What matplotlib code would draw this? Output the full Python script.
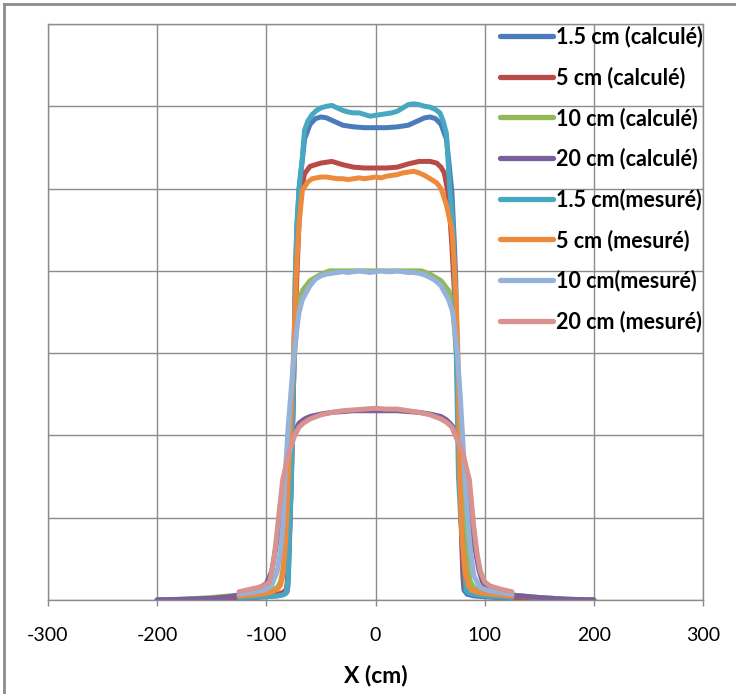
import matplotlib
matplotlib.use("Agg")
import matplotlib.pyplot as plt
from matplotlib.lines import Line2D

plt.rcParams['font.family'] = ['Lato', 'DejaVu Sans']

# profils calculés (x en cm)
x_15_calc = [-200, -175, -150, -125, -110, -100, -90, -84, -81, -80, -79, -77, -75, -73.5, -72, -70, -67, -65, -60, -55,
             -50, -45, -40, -35, -30, -20, -10, 0, 10, 20, 30, 35, 40, 45, 50, 55, 60, 65, 67, 70,
             72, 73.5, 75, 77, 79, 80, 81, 84, 90, 100, 110, 125, 150, 175, 200]
y_15_calc = [0, 0.005, 0.01, 0.02, 0.03, 0.04, 0.05, 0.07, 0.1, 0.2, 0.6, 1.5, 2.7, 3.9, 4.5, 5.0, 5.35, 5.6, 5.78, 5.85,
             5.87, 5.86, 5.83, 5.8, 5.77, 5.75, 5.74, 5.74, 5.74, 5.75, 5.77, 5.8, 5.83, 5.86, 5.87, 5.85, 5.78, 5.6, 5.35, 4.95,
             4.4, 3.9, 2.8, 1.6, 0.7, 0.3, 0.12, 0.07, 0.05, 0.04, 0.03, 0.02, 0.01, 0.005, 0]

x_5_calc = [-200, -175, -150, -125, -110, -100, -90, -85, -82, -81, -80, -78, -76, -74, -72, -70, -68, -65, -60, -50,
            -40, -30, -20, -10, 0, 10, 20, 30, 40, 50, 56, 60, 63, 66, 68, 70, 72, 74, 76, 78,
            80, 81, 82, 85, 90, 100, 110, 125, 150, 175, 200]
y_5_calc = [0, 0.005, 0.015, 0.03, 0.04, 0.05, 0.07, 0.09, 0.12, 0.2, 0.4, 1.1, 2.1, 3.2, 3.95, 4.6, 4.98, 5.18, 5.27, 5.31,
            5.33, 5.29, 5.26, 5.25, 5.25, 5.25, 5.26, 5.3, 5.33, 5.33, 5.31, 5.26, 5.19, 4.98, 4.7, 4.3, 3.8, 3.2, 2.2, 1.1,
            0.45, 0.25, 0.15, 0.1, 0.07, 0.05, 0.04, 0.03, 0.015, 0.005, 0]

x_10_calc = [-200, -175, -150, -125, -110, -100, -95, -90, -87, -85, -83, -81, -79, -77, -74, -72, -70, -67, -60, -50,
             -42, -30, -20, -10, 0, 10, 20, 30, 42, 50, 60, 67, 70, 72, 74, 77, 79, 81, 83, 85,
             87, 90, 95, 100, 110, 125, 150, 175, 200]
y_10_calc = [0, 0.01, 0.03, 0.06, 0.08, 0.1, 0.12, 0.15, 0.22, 0.35, 0.7, 1.3, 1.9, 2.4, 3.0, 3.35, 3.62, 3.76, 3.88, 3.96,
             4.0, 4.0, 4.0, 4.0, 4.0, 4.0, 4.0, 4.0, 4.0, 3.96, 3.88, 3.76, 3.62, 3.35, 3.0, 2.4, 1.9, 1.3, 0.7, 0.35,
             0.22, 0.15, 0.12, 0.1, 0.08, 0.06, 0.03, 0.01, 0]

x_20_calc = [-200, -175, -150, -134, -125, -110, -100, -95, -90, -87, -85, -83, -80, -77, -75, -72, -70, -65, -60, -50,
             -40, -30, -20, -10, 0, 10, 20, 30, 40, 50, 60, 65, 68, 70, 72, 75, 77, 80, 83, 85,
             87, 90, 95, 98, 100, 110, 125, 150, 175, 200]
y_20_calc = [0, 0.01, 0.02, 0.04, 0.06, 0.12, 0.2, 0.35, 0.75, 1.1, 1.3, 1.5, 1.75, 1.95, 2.03, 2.1, 2.15, 2.2, 2.23, 2.26,
             2.28, 2.29, 2.3, 2.3, 2.3, 2.3, 2.3, 2.29, 2.28, 2.26, 2.23, 2.19, 2.15, 2.12, 2.09, 2.03, 1.9, 1.7, 1.46, 1.25,
             1.0, 0.7, 0.35, 0.22, 0.18, 0.1, 0.06, 0.03, 0.01, 0]

# profils mesurés
x_15_mes = [-125, -110, -100, -90, -85, -82, -80, -79, -77, -75, -73.5, -72, -70, -67, -65, -62, -58, -54, -50, -45,
            -40, -35, -30, -25, -20, -15, -10, -5, 0, 5, 10, 15, 20, 25, 30, 35, 40, 45, 50, 55,
            59, 62, 65, 68, 71, 72.5, 74, 76, 78, 80, 82, 83, 85, 90, 100, 110, 125]
y_15_mes = [0.03, 0.035, 0.04, 0.05, 0.06, 0.08, 0.25, 0.73, 1.46, 2.7, 3.92, 4.58, 5.0, 5.38, 5.71, 5.82, 5.9, 5.95, 5.98, 6.0,
            6.01, 5.98, 5.95, 5.93, 5.92, 5.92, 5.9, 5.88, 5.89, 5.9, 5.91, 5.92, 5.94, 5.98, 6.02, 6.03, 6.02, 6.0, 5.99, 5.96,
            5.92, 5.82, 5.67, 5.0, 4.55, 3.9, 3.0, 1.5, 1.0, 0.7, 0.3, 0.12, 0.09, 0.07, 0.05, 0.04, 0.03]

x_5_mes = [-125, -110, -100, -95, -90, -87, -85, -83, -82, -80, -77, -75, -72.5, -70, -67, -62, -58, -54, -50, -45,
           -40, -35, -30, -25, -20, -15, -10, -5, 0, 5, 10, 15, 20, 25, 30, 35, 40, 45, 50, 56,
           60, 65, 70, 72.5, 74, 75.5, 77, 79, 82, 85, 88, 95, 105, 115, 125]
y_5_mes = [0.05, 0.06, 0.08, 0.1, 0.13, 0.18, 0.3, 0.6, 0.8, 1.46, 2.4, 3.0, 4.0, 4.58, 4.98, 5.08, 5.12, 5.13, 5.14, 5.14,
           5.13, 5.12, 5.12, 5.11, 5.12, 5.13, 5.12, 5.13, 5.14, 5.13, 5.15, 5.16, 5.17, 5.19, 5.2, 5.21, 5.19, 5.16, 5.12, 5.07,
           5.0, 4.8, 4.5, 4.0, 3.6, 3.0, 1.6, 0.8, 0.35, 0.18, 0.12, 0.09, 0.07, 0.06, 0.05]

x_10_mes = [-125, -115, -105, -100, -95, -90, -87, -85, -83, -80, -77, -74.5, -72, -70, -67, -60, -55, -50, -45, -40,
            -35, -30, -25, -20, -15, -10, -5, 0, 5, 10, 15, 20, 25, 30, 35, 40, 45, 50, 55, 60,
            62, 67, 71, 75, 78, 82, 85, 87, 90, 95, 100, 105, 115, 125]
y_10_mes = [0.07, 0.09, 0.11, 0.13, 0.18, 0.35, 0.6, 0.9, 1.46, 2.1, 2.6, 3.0, 3.3, 3.5, 3.65, 3.82, 3.9, 3.94, 3.96, 3.97,
            3.98, 3.99, 3.98, 3.99, 4.0, 3.99, 3.98, 3.99, 4.0, 3.99, 3.99, 4.0, 3.99, 3.98, 3.98, 3.97, 3.95, 3.92, 3.88, 3.82,
            3.77, 3.65, 3.49, 3.0, 2.4, 1.46, 0.9, 0.6, 0.3, 0.16, 0.13, 0.11, 0.09, 0.07]

x_20_mes = [-125, -115, -105, -100, -97, -95, -93, -91, -88, -85, -80, -77, -74, -70, -66, -60, -50, -40, -30, -20,
            -10, 0, 10, 20, 30, 40, 50, 60, 65, 70, 74, 77, 80, 83, 86, 90, 93, 96, 100, 105,
            115, 125]
y_20_mes = [0.1, 0.13, 0.16, 0.19, 0.22, 0.35, 0.5, 0.73, 1.1, 1.46, 1.75, 1.88, 2.0, 2.1, 2.15, 2.2, 2.25, 2.28, 2.3, 2.31,
            2.32, 2.33, 2.32, 2.32, 2.3, 2.28, 2.25, 2.2, 2.16, 2.1, 1.97, 1.88, 1.79, 1.62, 1.46, 0.9, 0.57, 0.35, 0.22, 0.17,
            0.13, 0.1]

labels = ['1.5 cm (calculé)', '5 cm (calculé)', '10 cm (calculé)', '20 cm (calculé)',
          '1.5 cm(mesuré)', '5 cm (mesuré)', '10 cm(mesuré)', '20 cm (mesuré)']
colors = ['#4A7BBA', '#B84B47', '#93B856', '#7A5E9E', '#48A8C2', '#EE8A3C', '#94B2DA', '#D8928F']
xticks = [-300, -200, -100, 0, 100, 200, 300]

series = [(x_15_calc, y_15_calc), (x_5_calc, y_5_calc), (x_10_calc, y_10_calc), (x_20_calc, y_20_calc),
          (x_15_mes, y_15_mes), (x_5_mes, y_5_mes), (x_10_mes, y_10_mes), (x_20_mes, y_20_mes)]

W, H = 736, 694
fig = plt.figure(figsize=(W / 100, H / 100), dpi=100)
ax = fig.add_axes([48 / W, 1 - 600 / H, (703 - 48) / W, (600 - 24) / H])

grid_col = '#8C8C8C'
for (xs, ys), lab, col in zip(series, labels, colors):
    ax.plot(xs, ys, color=col, lw=3.6, label=lab, solid_capstyle='round', solid_joinstyle='round')

ax.set_xlim(-300, 300)
ax.set_ylim(0, 7)
ax.set_xticks(xticks)
ax.set_xticklabels([str(t) for t in xticks], fontsize=14)
ax.set_yticks(range(0, 8))
ax.set_yticklabels([])
ax.tick_params(axis='y', length=0)
ax.tick_params(axis='x', length=4.5, width=1, color=grid_col, pad=15)
ax.grid(True, color=grid_col, lw=1)
ax.set_axisbelow(True)
for sp in ax.spines.values():
    sp.set_color(grid_col)
    sp.set_linewidth(1)

ax.set_xlabel('X (cm)', fontsize=16.5, fontweight='bold', va='center')
ax.xaxis.set_label_coords(0.5, -(676 - 600) / 576)

leg = ax.legend(loc='upper left', bbox_to_anchor=(500 / W, 1 - 26 / H), bbox_transform=fig.transFigure,
                frameon=False, borderpad=0, borderaxespad=0, handlelength=2.45, handletextpad=0.14,
                labelspacing=0.88, prop={'size': 15.5, 'weight': 'bold'})
for h in leg.get_lines():
    h.set_linewidth(3.8)

# cadre du graphique
fig.add_artist(Line2D([3.5 / W, 3.5 / W], [0, 1 - 3.5 / H], transform=fig.transFigure, color='#8C8C8C', lw=2))
fig.add_artist(Line2D([3.5 / W, 1], [1 - 3.5 / H, 1 - 3.5 / H], transform=fig.transFigure, color='#8C8C8C', lw=2))

fig.savefig('out.png', dpi=100)
